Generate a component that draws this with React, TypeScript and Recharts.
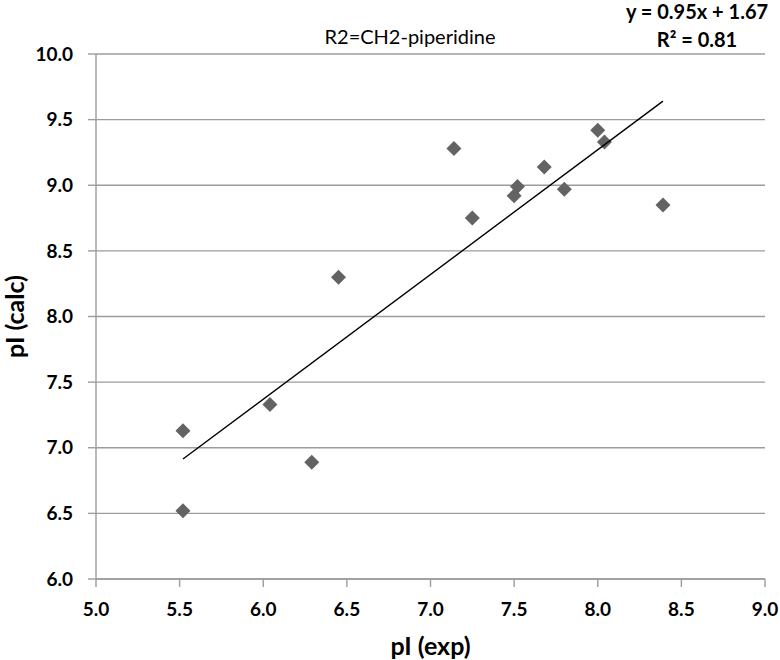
import { ScatterChart, Scatter, XAxis, YAxis, CartesianGrid } from 'recharts'

// measured vs calculated pI, R2 = CH2-piperidine
const expPI = [5.52, 5.52, 6.04, 6.29, 6.45, 7.14, 7.25, 7.5, 7.52, 7.68, 7.8, 8.0, 8.04, 8.39]
const calcPI = [7.13, 6.52, 7.33, 6.89, 8.3, 9.28, 8.75, 8.92, 8.99, 9.14, 8.97, 9.42, 9.33, 8.85]

const xTicks = [5, 5.5, 6, 6.5, 7, 7.5, 8, 8.5, 9]
const yTicks = [6, 6.5, 7, 7.5, 8, 8.5, 9, 9.5, 10]

const slope = 0.95
const intercept = 1.67

const points = expPI.map((x, i) => ({ x, y: calcPI[i] }))
const xMin = Math.min(...expPI)
const xMax = Math.max(...expPI)
const trend = [xMin, xMax].map((x) => ({ x, y: slope * x + intercept }))

const font = 'Lato, "Open Sans", sans-serif'
const gridColor = '#9c9c9c'
const markColor = '#636363'

const Diamond = (p: any) => {
  const r = 7.5
  const { cx, cy } = p
  return <path d={`M${cx},${cy - r}L${cx + r},${cy}L${cx},${cy + r}L${cx - r},${cy}Z`} fill={markColor} />
}

const NoMark = () => <g />

export default function App() {
  const tick = { fill: '#000', fontSize: 19, fontWeight: 700, fontFamily: font }
  return (
    <div style={{ position: 'absolute', left: 0, top: 0, width: 780, height: 660, fontFamily: font, background: '#fff' }}>
      <ScatterChart width={780} height={660} margin={{ top: 54, right: 15, bottom: 0, left: 0 }}>
        <CartesianGrid vertical={false} stroke={gridColor} strokeWidth={1.4} />
        <XAxis
          type="number"
          dataKey="x"
          domain={[5, 9]}
          ticks={xTicks}
          tickFormatter={(v: number) => v.toFixed(1)}
          height={81}
          tickSize={8}
          tickMargin={16}
          stroke={gridColor}
          strokeWidth={1.4}
          tick={tick}
          label={{ value: 'pI (exp)', position: 'insideBottom', offset: 5, fill: '#000', fontSize: 25, fontWeight: 700, fontFamily: font }}
        />
        <YAxis
          type="number"
          dataKey="y"
          domain={[6, 10]}
          ticks={yTicks}
          tickFormatter={(v: number) => v.toFixed(1)}
          width={96}
          tickSize={8}
          tickMargin={15}
          stroke={gridColor}
          strokeWidth={1.4}
          tick={tick}
          label={{ value: 'pI (calc)', angle: -90, position: 'center', dx: -33, fill: '#000', fontSize: 25, fontWeight: 700, fontFamily: font }}
        />
        <Scatter data={points} shape={Diamond} isAnimationActive={false} />
        <Scatter data={trend} shape={NoMark} line={{ stroke: '#000', strokeWidth: 1.4 }} isAnimationActive={false} />
      </ScatterChart>
      <div style={{ position: 'absolute', left: 290, top: 24, width: 240, textAlign: 'center', fontSize: 20, color: '#000' }}>
        R2=CH2-piperidine
      </div>
      <div style={{ position: 'absolute', left: 607, top: -3, width: 180, textAlign: 'center', fontSize: 20, fontWeight: 700, color: '#000', lineHeight: '28px' }}>
        <div>y = 0.95x + 1.67</div>
        <div>R² = 0.81</div>
      </div>
    </div>
  )
}
